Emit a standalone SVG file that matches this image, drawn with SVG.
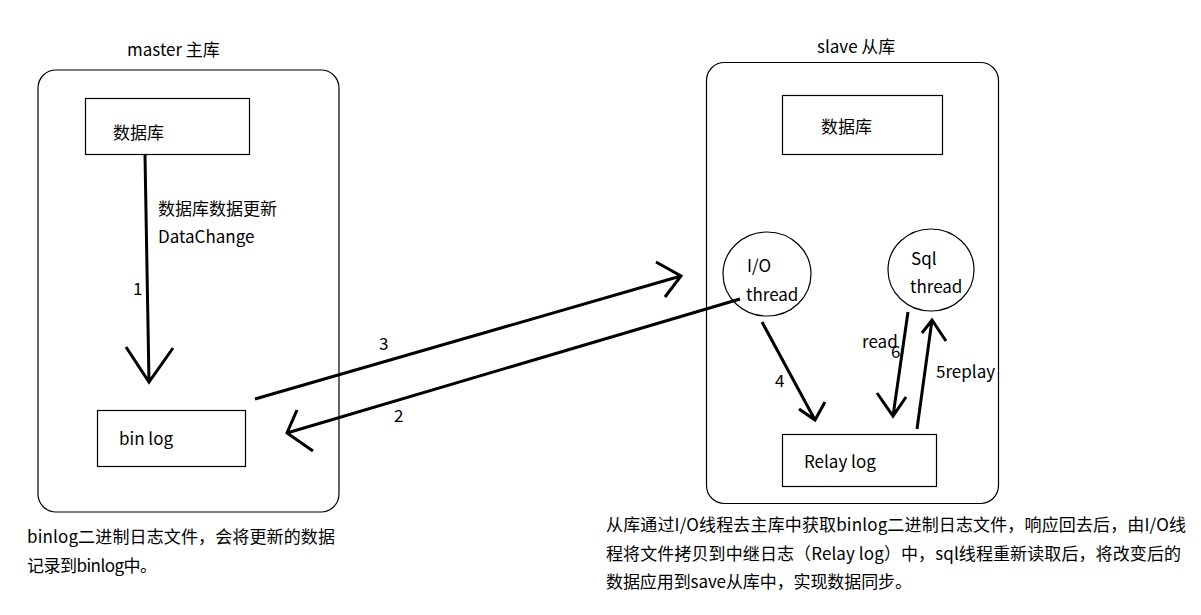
<svg xmlns="http://www.w3.org/2000/svg" width="1201" height="615" viewBox="0 0 1201 615">
<style>
text{font-family:"Noto Sans CJK SC","Noto Sans",sans-serif;font-size:17px;fill:#000}
.box{fill:none;stroke:#000;stroke-width:1.2}
.cont{fill:none;stroke:#000;stroke-width:1.2}
.arr{fill:none;stroke:#000;stroke-width:3;stroke-linecap:butt;stroke-linejoin:miter}
</style>
<rect width="1201" height="615" fill="#fff"/>
<g id="master">
<text x="127" y="56">master 主库</text>
<rect class="cont" x="38" y="70" width="301" height="442" rx="18"/>
</g>
<g id="master-db">
<rect class="box" x="85.5" y="98.5" width="164" height="56"/>
<text x="113" y="139">数据库</text>
</g>
<g id="binlog">
<rect class="box" x="97.5" y="410.5" width="148" height="56"/>
<text x="119" y="445">bin log</text>
</g>
<g id="slave">
<text x="817" y="53">slave 从库</text>
<rect class="cont" x="706.5" y="62.5" width="292" height="441" rx="18"/>
</g>
<g id="slave-db">
<rect class="box" x="782.5" y="95.5" width="160" height="59"/>
<text x="821" y="133">数据库</text>
</g>
<g id="io-thread">
<ellipse class="box" cx="767" cy="274" rx="44" ry="42"/>
<text x="747" y="272">I/O</text>
<text x="746" y="301">thread</text>
</g>
<g id="sql-thread">
<ellipse class="box" cx="931" cy="270" rx="43" ry="41"/>
<text x="911" y="265">Sql</text>
<text x="910" y="293">thread</text>
</g>
<g id="relay-log">
<rect class="box" x="782.5" y="434.5" width="154" height="52"/>
<text x="804" y="468">Relay log</text>
</g>
<g id="connectors">
<path class="arr" d="M145,155 L149,382 M126,347 L149,382 L173,348"/>
<path class="arr" d="M255,399 L681,276 M656,262 L681,276 L665,297"/>
<path class="arr" d="M740,299 L287,433 M297,410 L287,433 L313,451"/>
<path class="arr" d="M762,322 L815,420 M799,409 L815,420 L825,402"/>
<path class="arr" d="M908,312 L893,416 M877,393 L893,416 L906,397"/>
<path class="arr" d="M917,429 L932,320 M922,333 L932,320 L946,341"/>
</g>
<g id="labels">
<text x="158" y="215">数据库数据更新</text>
<text x="158" y="243">DataChange</text>
<text x="133" y="295">1</text>
<text x="379" y="350">3</text>
<text x="394" y="422">2</text>
<text x="775" y="387">4</text>
<text x="862" y="348">read</text>
<text x="891" y="358">6</text>
<text x="936" y="378">5replay</text>
<text x="27" y="543" textLength="308">binlog二进制日志文件，会将更新的数据</text>
<text x="27" y="572" textLength="130">记录到binlog中。</text>
<text x="606" y="531" textLength="580">从库通过I/O线程去主库中获取binlog二进制日志文件，响应回去后，由I/O线</text>
<text x="606" y="560" textLength="575">程将文件拷贝到中继日志（Relay log）中，sql线程重新读取后，将改变后的</text>
<text x="606" y="588" textLength="306">数据应用到save从库中，实现数据同步。</text>
</g>
</svg>
